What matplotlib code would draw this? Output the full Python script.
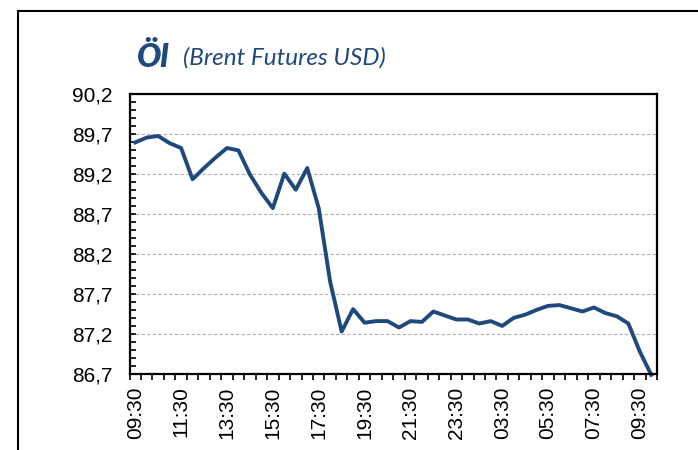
import matplotlib.pyplot as plt
import numpy as np
from matplotlib.patches import Rectangle
from matplotlib.ticker import FixedLocator, FuncFormatter

# Brent futures, half-hour steps (night hours skipped)
prices = [89.59, 89.65, 89.67, 89.58, 89.52, 89.13, 89.27, 89.40, 89.52, 89.49,
          89.19, 88.96, 88.77, 89.20, 89.00, 89.27, 88.77, 87.85, 87.23, 87.51,
          87.34, 87.36, 87.36, 87.28, 87.36, 87.35, 87.48, 87.43, 87.38, 87.38,
          87.33, 87.36, 87.30, 87.40, 87.44, 87.50, 87.55, 87.56, 87.52, 87.48,
          87.53, 87.46, 87.42, 87.33, 86.98, 86.69]
time_labels = ["09:30", "11:30", "13:30", "15:30", "17:30", "19:30",
               "21:30", "23:30", "03:30", "05:30", "07:30", "09:30"]
label_step = 4
y_min, y_max = 86.7, 90.2

blue = "#1F497D"

fig = plt.figure(figsize=(6.98, 4.5), dpi=100)
W, H = 698, 450

# outer frame (runs off the right and bottom edge)
fig.patches.append(Rectangle((18 / W, -0.1), 1.0, 1 - 11 / H + 0.1,
                             transform=fig.transFigure, fill=False,
                             edgecolor="black", linewidth=1.5))

ax = fig.add_axes([129.5 / W, 1 - 374 / H, (657 - 129.5) / W, (374 - 93.5) / H])

x = np.arange(len(prices))
ax.plot(x, prices, color=blue, linewidth=2.8, clip_on=False)

ax.set_xlim(-0.5, len(prices) - 0.5)
ax.set_ylim(y_min, y_max)

# y axis: major every 0.5 from 86.7, minor every 0.1
ax.yaxis.set_major_locator(FixedLocator(np.round(np.arange(y_min, y_max + 0.01, 0.5), 1)))
ax.yaxis.set_minor_locator(FixedLocator(np.round(np.arange(y_min, y_max + 0.01, 0.1), 1)))
ax.yaxis.set_major_formatter(FuncFormatter(lambda v, p: f"{v:.1f}".replace(".", ",")))
ax.tick_params(axis="y", which="both", direction="in", length=4, width=1.2,
               labelsize=15, pad=12)
ax.yaxis.grid(True, which="major", color="#b0b0b0", linestyle=(0, (3, 2)), linewidth=0.8)

# x axis
ax.xaxis.set_major_locator(FixedLocator(np.arange(0, len(prices), label_step)))
ax.set_xticklabels(time_labels, rotation=90, fontsize=15)
ax.xaxis.set_minor_locator(FixedLocator(np.arange(-0.5, len(prices), 1)))
ax.tick_params(axis="x", which="major", length=0, pad=9)
ax.tick_params(axis="x", which="minor", direction="out", length=4, width=1.2)

for lbl in ax.get_xticklabels() + ax.get_yticklabels():
    lbl.set_fontfamily("Liberation Sans")

for s in ax.spines.values():
    s.set_linewidth(1.6)
    s.set_color("black")

fig.text(137 / W, 1 - 57 / H, "Öl", fontsize=23, fontweight="heavy", style="italic",
         color=blue, family="Lato", va="center")
fig.text(183 / W, 1 - 58 / H, "(Brent Futures USD)", fontsize=17.5, style="italic",
         color=blue, family="Lato", va="center")

fig.savefig("out.png", dpi=100)
